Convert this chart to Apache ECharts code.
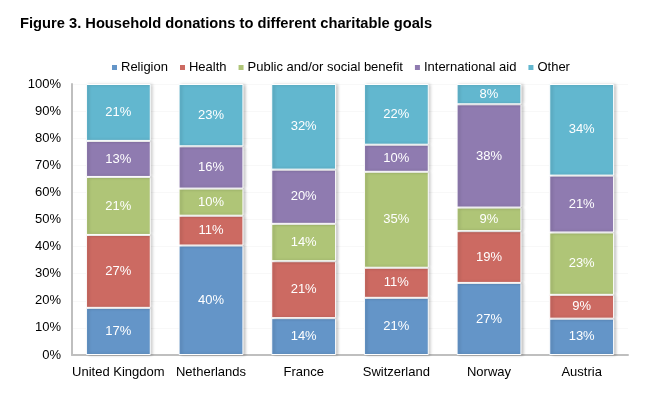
<!DOCTYPE html>
<html>
<head>
<meta charset="utf-8">
<script src="https://cdn.jsdelivr.net/npm/echarts@6/dist/echarts.min.js"></script>
<style>
  html, body { margin: 0; padding: 0; background: #fff; }
  #chart { width: 647px; height: 397px; }
</style>
</head>
<body>
<div id="chart"></div>
<script>
var countries = ['United Kingdom', 'Netherlands', 'France', 'Switzerland', 'Norway', 'Austria'];
var goals = ['Religion', 'Health', 'Public and/or social benefit', 'International aid', 'Other'];
var colors = ['#6495C8', '#CC6A62', '#AFC577', '#8F7BB0', '#62B7CF'];

// shares in %, per country (same order as countries)
var religion      = [17.4, 40.4, 13.6, 21.1, 26.6, 13.4];
var health        = [26.9, 11.0, 21.0, 11.1, 19.1,  8.8];
var publicBenefit = [21.4, 10.0, 13.8, 35.4,  8.7, 23.0];
var intlAid       = [13.3, 15.6, 20.0, 10.0, 38.1, 21.0];
var other         = [21.0, 23.0, 31.6, 22.4,  7.5, 33.8];

var yTicks = [0, 10, 20, 30, 40, 50, 60, 70, 80, 90, 100];

var seriesData = [religion, health, publicBenefit, intlAid, other];
var font = 'Liberation Sans, Arial, sans-serif';

var chart = echarts.init(document.getElementById('chart'));
chart.setOption({
    animation: false,
    color: colors,
    title: {
        text: 'Figure 3. Household donations to different charitable goals',
        left: 15,
        top: 11,
        textStyle: { fontFamily: font, fontSize: 14.7, fontWeight: 'bold', color: '#000' }
    },
    legend: {
        data: goals,
        left: 107,
        top: 56,
        icon: 'rect',
        itemWidth: 5,
        itemHeight: 5,
        itemGap: 12,
        itemStyle: { borderWidth: 0, shadowBlur: 0, shadowOffsetX: 0 },
        textStyle: { fontFamily: font, fontSize: 13, color: '#000', padding: [0, 0, 0, -1] }
    },
    grid: { left: 72, right: 19, top: 84, bottom: 42 },
    xAxis: {
        type: 'category',
        data: countries,
        axisLine: { lineStyle: { color: '#bfbfbf', width: 2 } },
        axisTick: { show: false },
        axisLabel: { interval: 0, fontFamily: font, fontSize: 13, color: '#000', margin: 11 }
    },
    yAxis: {
        type: 'value',
        min: yTicks[0],
        max: yTicks[yTicks.length - 1],
        interval: 10,
        axisLine: { show: true, lineStyle: { color: '#bfbfbf', width: 2 } },
        axisTick: { show: false },
        splitLine: { lineStyle: { color: '#f8f8f8' } },
        axisLabel: { fontFamily: font, fontSize: 13, color: '#000', margin: 11,
                     formatter: function (v) { return v + '%'; } }
    },
    series: seriesData.map(function (d, i) {
        return {
            name: goals[i],
            type: 'bar',
            stack: 'total',
            barCategoryGap: '30%',
            data: d,
            itemStyle: {
                borderColor: '#fff',
                borderWidth: 1,
                shadowColor: 'rgba(0,0,0,0.22)',
                shadowBlur: 3,
                shadowOffsetX: 2
            },
            label: {
                show: true,
                position: 'inside',
                color: '#fff',
                fontFamily: font,
                fontSize: 13,
                formatter: function (p) { return Math.round(p.value) + '%'; }
            }
        };
    })
});
</script>
</body>
</html>
